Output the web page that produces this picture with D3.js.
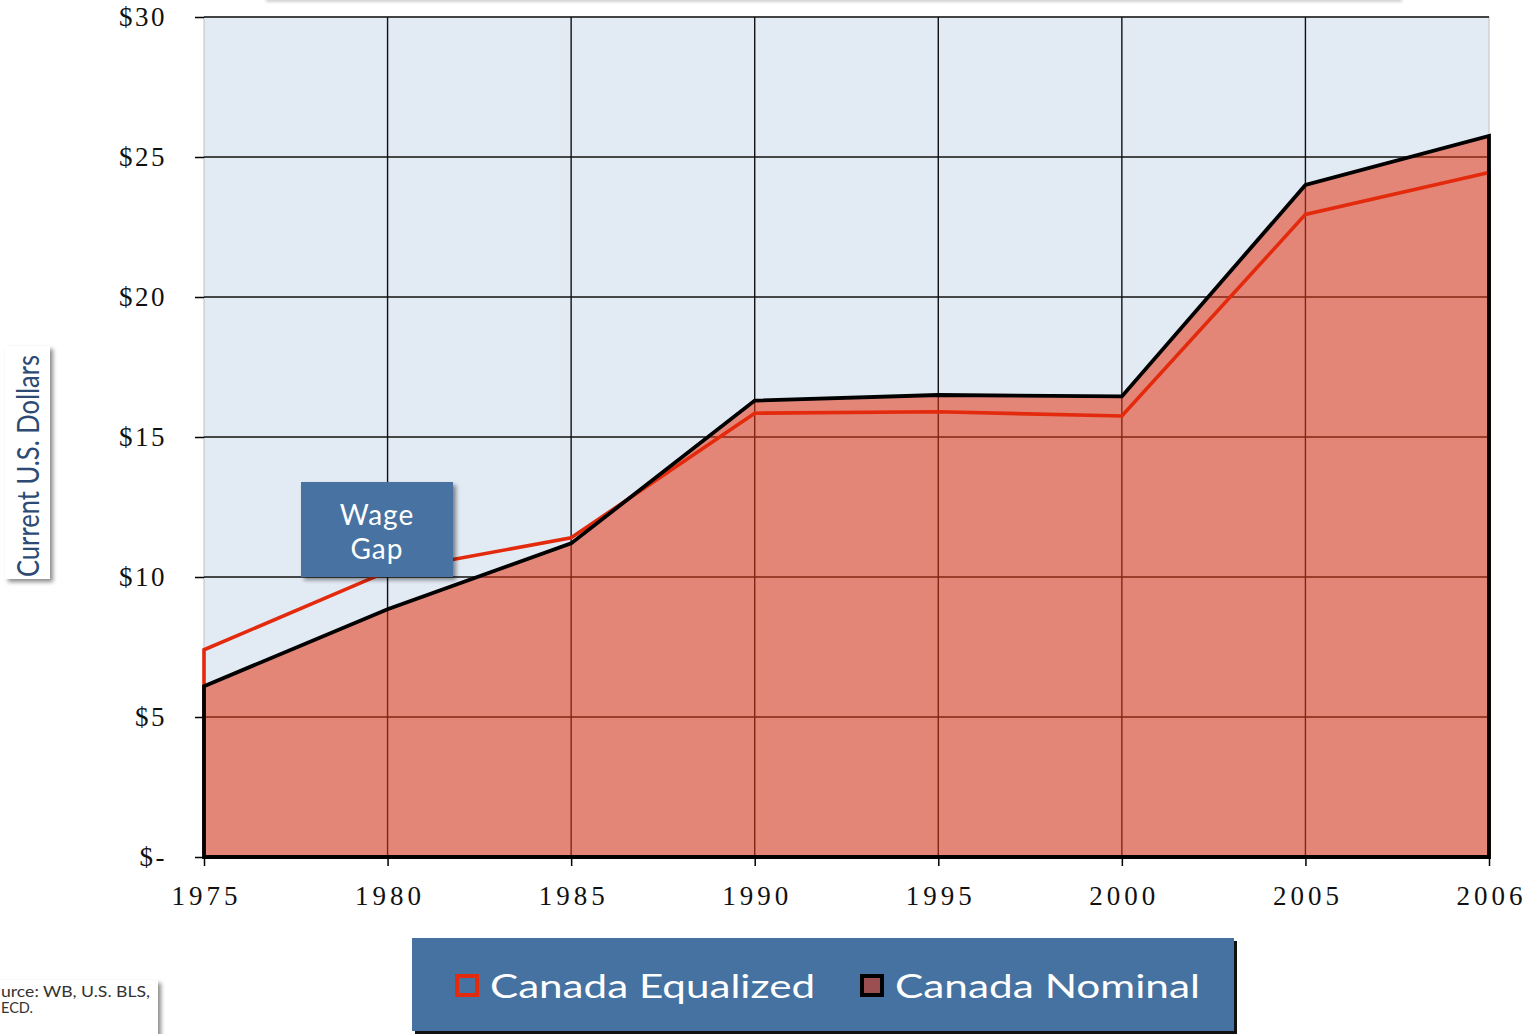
<!DOCTYPE html>
<html>
<head>
<meta charset="utf-8">
<script src="https://cdn.jsdelivr.net/npm/d3@7"></script>
<style>
  html, body { margin: 0; padding: 0; background: #ffffff; overflow: hidden; }
  svg { display: block; }
</style>
</head>
<body>
<script>
// ---- data ----
const categories = ["1975", "1980", "1985", "1990", "1995", "2000", "2005", "2006"];
const equalized = [7.4, 10.2, 11.4, 15.85, 15.9, 15.75, 22.95, 24.45];
const nominal = [6.1, 8.85, 11.2, 16.3, 16.5, 16.45, 24.0, 25.75];
const yTicks = [0, 5, 10, 15, 20, 25, 30];
const yTickLabels = ["$-", "$5", "$10", "$15", "$20", "$25", "$30"];
const seriesNames = ["Canada Equalized", "Canada Nominal"];
const yAxisTitle = "Current U.S. Dollars";
const annotation = ["Wage", "Gap"];
// the source note is cropped at the left edge in the reference; only its visible part is shown
const sourceLines = ["urce: WB, U.S. BLS,", "ECD."];

(function () {
// ---- setup ----
const W = 1533, H = 1034;
const svg = d3.select("body").append("svg").attr("width", W).attr("height", H);
const defs = svg.append("defs");
const sh = defs.append("filter").attr("id", "shadow").attr("x", "-20%").attr("y", "-20%").attr("width", "140%").attr("height", "140%");
sh.append("feDropShadow").attr("dx", 3).attr("dy", 3).attr("stdDeviation", 2).attr("flood-color", "#000").attr("flood-opacity", 0.45);
const shSoft = defs.append("filter").attr("id", "shadowSoft").attr("x", "-20%").attr("y", "-50%").attr("width", "140%").attr("height", "200%");
shSoft.append("feDropShadow").attr("dx", 0).attr("dy", 2).attr("stdDeviation", 1.5).attr("flood-color", "#000").attr("flood-opacity", 0.18);

const pLeft = 204, pRight = 1489, pTop = 17, pBottom = 857;
const x = d3.scalePoint().domain(categories).range([pLeft, pRight]);
const y = d3.scaleLinear().domain([0, 30]).range([pBottom, pTop]);

// faint title box cut off at top
svg.append("rect").attr("x", 266).attr("y", -60).attr("width", 1136).attr("height", 60)
  .attr("fill", "#fff").attr("filter", "url(#shadowSoft)");

// plot background
svg.append("rect").attr("x", pLeft).attr("y", pTop).attr("width", pRight - pLeft).attr("height", pBottom - pTop)
  .attr("fill", "#E2EAF4").attr("stroke", "#c8c8c8").attr("stroke-width", 1.2);

// grid
const grid = svg.append("g");
grid.selectAll("line.h").data(yTicks.filter(d => d > 0)).join("line")
  .attr("x1", pLeft).attr("x2", pRight).attr("y1", d => y(d)).attr("y2", d => y(d))
  .attr("stroke", "#111").attr("stroke-width", 1.4);
grid.selectAll("line.v").data(categories.slice(1, -1)).join("line")
  .attr("x1", d => x(d)).attr("x2", d => x(d)).attr("y1", pTop).attr("y2", pBottom)
  .attr("stroke", "#111").attr("stroke-width", 1.4);

// nominal area fill
const area = d3.area().x((d, i) => x(categories[i])).y0(y(0)).y1(d => y(d));
svg.append("path").datum(nominal).attr("d", area)
  .attr("fill", "rgb(228,51,18)").attr("fill-opacity", 0.55).attr("stroke", "none");

// equalized outline (area with no fill)
const eqPts = equalized.map((d, i) => [x(categories[i]), y(d)]);
const eqPath = d3.line()([[x(categories[0]), y(0)], ...eqPts, [x(categories[categories.length - 1]), y(0)]]);
svg.append("path").attr("d", eqPath).attr("fill", "none")
  .attr("stroke", "#E42A0C").attr("stroke-width", 3.6).attr("stroke-linejoin", "miter");

// nominal outline
svg.append("path").datum(nominal).attr("d", area)
  .attr("fill", "none").attr("stroke", "#000").attr("stroke-width", 3.8).attr("stroke-linejoin", "miter");

// axes
const serif = "'Liberation Serif', 'DejaVu Serif', serif";
const yAxis = svg.append("g").attr("transform", `translate(${pLeft},0)`)
  .call(d3.axisLeft(y).tickValues(yTicks).tickFormat((d, i) => yTickLabels[i]).tickSize(9).tickPadding(28));
yAxis.select(".domain").remove();
yAxis.selectAll(".tick line").attr("stroke", "#000").attr("stroke-width", 1.5);
yAxis.selectAll(".tick text").attr("font-family", serif).attr("font-size", 27).attr("fill", "#111")
  .attr("letter-spacing", "2.5px");

const xAxis = svg.append("g").attr("transform", `translate(0,${pBottom})`)
  .call(d3.axisBottom(x).tickSize(9).tickPadding(20));
xAxis.select(".domain").remove();
xAxis.selectAll(".tick line").attr("stroke", "#000").attr("stroke-width", 1.5);
xAxis.selectAll(".tick text").attr("font-family", serif).attr("font-size", 27).attr("fill", "#111")
  .attr("letter-spacing", "4px").attr("dx", "2px");

// y axis title box
const sans = "Lato, 'Open Sans', sans-serif";
svg.append("rect").attr("x", 5).attr("y", 346).attr("width", 45).attr("height", 233)
  .attr("fill", "#fff").attr("filter", "url(#shadow)");
svg.append("text").attr("transform", "translate(39,466) rotate(-90)")
  .attr("text-anchor", "middle").attr("font-family", sans).attr("font-size", 30)
  .attr("fill", "#2c4a74").attr("textLength", 222).attr("lengthAdjust", "spacingAndGlyphs")
  .text(yAxisTitle);

// wage gap annotation
svg.append("rect").attr("x", 301).attr("y", 482).attr("width", 152).attr("height", 95)
  .attr("fill", "#4672A1").attr("filter", "url(#shadow)");
svg.selectAll("text.ann").data(annotation).join("text")
  .attr("x", 377).attr("y", (d, i) => 525 + i * 34)
  .attr("text-anchor", "middle").attr("font-family", sans).attr("font-size", 28).attr("fill", "#fff")
  .attr("letter-spacing", "1px")
  .text(d => d);

// legend
svg.append("rect").attr("x", 415).attr("y", 941).attr("width", 822).attr("height", 93).attr("fill", "#111");
svg.append("rect").attr("x", 412).attr("y", 938).attr("width", 822).attr("height", 93).attr("fill", "#4672A1");
const legendItems = [
  { name: seriesNames[0], sx: 455, tx: 490, tl: 325, fill: "#4672A1", stroke: "#E42A0C" },
  { name: seriesNames[1], sx: 860, tx: 895, tl: 305, fill: "#9B4F50", stroke: "#000" }
];
const lg = svg.selectAll("g.lg").data(legendItems).join("g");
lg.append("rect").attr("x", d => d.sx + 2).attr("y", 976).attr("width", 20).attr("height", 19)
  .attr("fill", d => d.fill).attr("stroke", d => d.stroke).attr("stroke-width", 4);
lg.append("text").attr("x", d => d.tx).attr("y", 998).attr("font-family", sans).attr("font-size", 33)
  .attr("fill", "#fff").attr("textLength", d => d.tl).attr("lengthAdjust", "spacingAndGlyphs")
  .text(d => d.name);

// source box (cropped at the left edge, as in the reference)
svg.append("rect").attr("x", -20).attr("y", 980).attr("width", 178).attr("height", 70)
  .attr("fill", "#fff").attr("filter", "url(#shadow)");
svg.append("text").attr("x", 1).attr("y", 997)
  .attr("font-family", sans).attr("font-size", 15).attr("fill", "#333")
  .attr("textLength", 149).attr("lengthAdjust", "spacingAndGlyphs").text(sourceLines[0]);
svg.append("text").attr("x", 1).attr("y", 1013)
  .attr("font-family", sans).attr("font-size", 15).attr("fill", "#333")
  .attr("textLength", 32).attr("lengthAdjust", "spacingAndGlyphs").text(sourceLines[1]);
})();
</script>
</body>
</html>
